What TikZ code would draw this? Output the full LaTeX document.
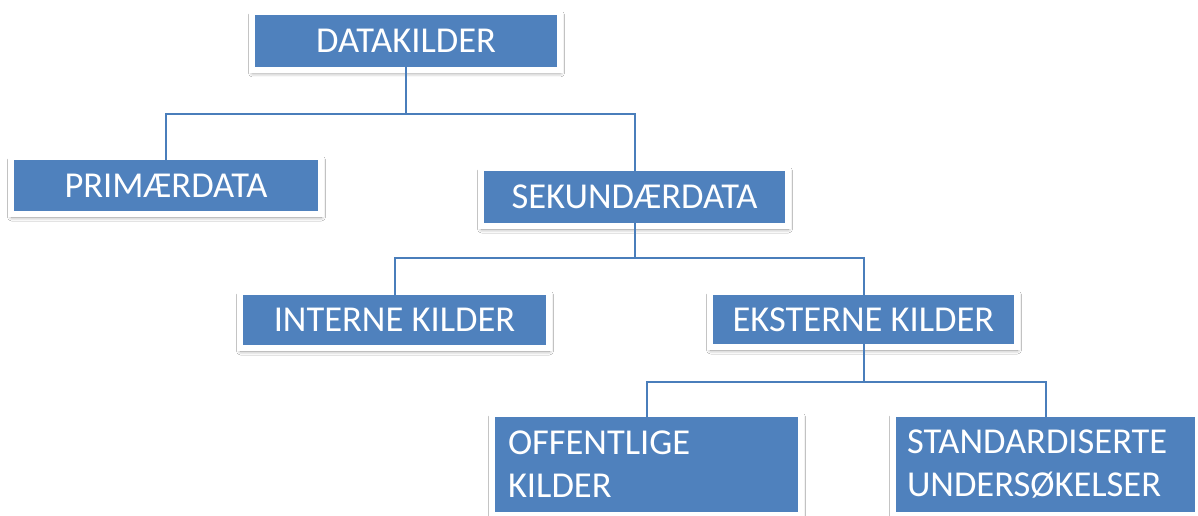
\documentclass[tikz,border=0pt]{standalone}
\usepackage{fontspec}
\setmainfont{Carlito}
\usetikzlibrary{shadows.blur}
\definecolor{boxblue}{HTML}{4F81BD}
\definecolor{linkblue}{HTML}{4A7EBB}

\begin{document}
\begin{tikzpicture}[x=1pt,y=-1pt,
  box/.style={draw=white, line width=6pt, fill=boxblue, text=white,
    font=\fontsize{36.5}{43}\selectfont, outer sep=0pt, inner sep=0pt,
    blur shadow={shadow xshift=0.5pt, shadow yshift=-3pt,
      shadow blur radius=4pt, shadow opacity=45}},
  conn/.style={draw=linkblue, line width=2pt, shorten <=-3pt, shorten >=-3pt}]

  \fill[white] (0,0) rectangle (1198,516);
  \useasboundingbox (0,0) rectangle (1198,516);

  % boxes
  \node[box, minimum width=308pt, minimum height=58pt] (dk) at (406,41) {DATAKILDER};
  \node[box, minimum width=310pt, minimum height=57pt] (pd) at (166,185.5) {PRIMÆRDATA};
  \node[box, minimum width=307pt, minimum height=58pt] (sd) at (634.5,197) {SEKUNDÆRDATA};
  \node[box, minimum width=309pt, minimum height=56pt] (ik) at (394.5,320) {INTERNE KILDER};
  \node[box, minimum width=307pt, minimum height=55pt] (ek) at (863.5,319.5) {EKSTERNE KILDER};
  \node[box, minimum width=309pt, minimum height=101pt, text width=277pt, align=left]
    (ok) at (646.5,464.5) {OFFENTLIGE\\KILDER};
  \node[box, minimum width=305pt, minimum height=101pt, text width=277pt, align=left]
    (su) at (1045.5,464.5) {STANDARDISERTE\\UNDERSØKELSER};

  % branch points of the tree
  \coordinate (j1) at (406,114);
  \coordinate (j2) at (634.5,258);
  \coordinate (j3) at (863.5,382);

  % connectors
  \draw[conn, shorten >=0pt] (dk.south) -- (dk.south |- j1);
  \draw[conn, shorten <=0pt] (dk.south |- j1) -| (pd.north);
  \draw[conn, shorten <=0pt] (dk.south |- j1) -| (sd.north);

  \draw[conn, shorten >=0pt] (sd.south) -- (sd.south |- j2);
  \draw[conn, shorten <=0pt] (sd.south |- j2) -| (ik.north);
  \draw[conn, shorten <=0pt] (sd.south |- j2) -| (ek.north);

  \draw[conn, shorten >=0pt] (ek.south) -- (ek.south |- j3);
  \draw[conn, shorten <=0pt] (ek.south |- j3) -| (ok.north);
  \draw[conn, shorten <=0pt] (ek.south |- j3) -| (su.north);
\end{tikzpicture}
\end{document}
